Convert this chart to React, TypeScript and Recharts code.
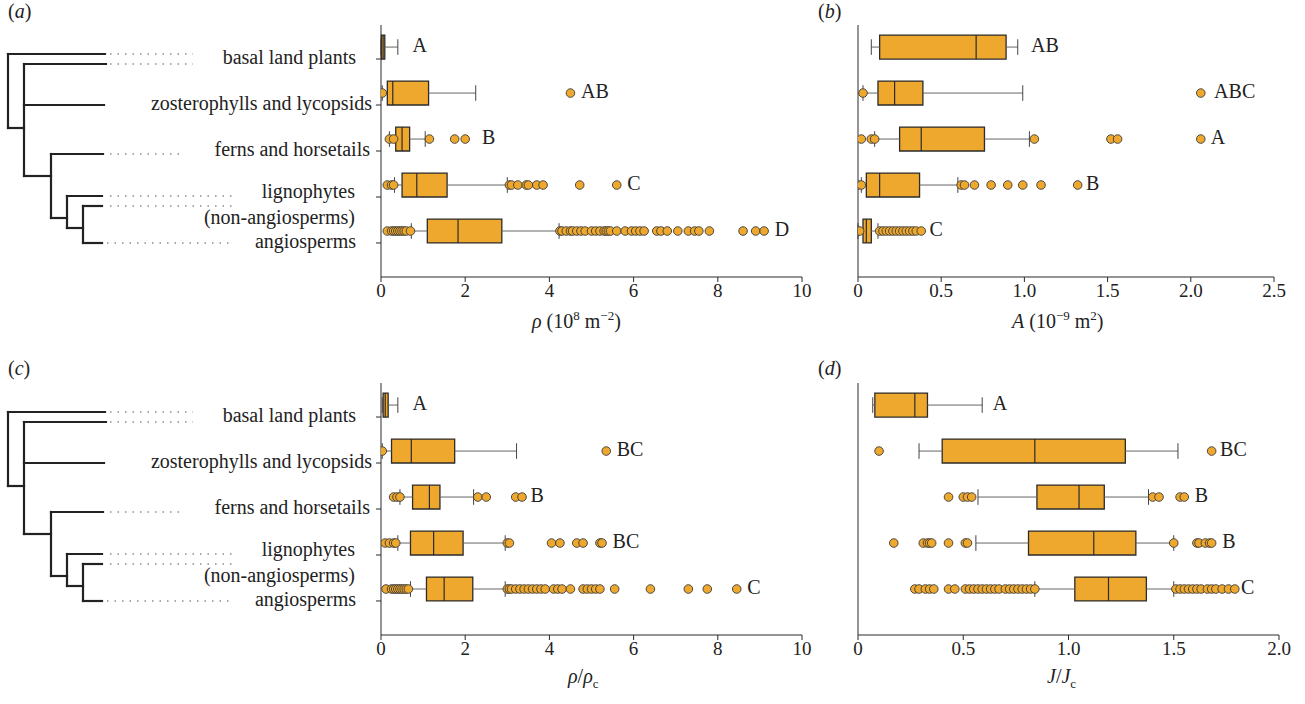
import React from 'react';
import {
  ScatterChart,
  Scatter,
  XAxis,
  YAxis,
  ReferenceArea,
  ReferenceLine,
} from 'recharts';

const groups = ['basal land plants', 'zosterophylls and lycopsids', 'ferns and horsetails', 'lignophytes', 'angiosperms'];
const rows = [1, 2, 3, 4, 5];

// --- (a) rho ---
const aWlo = [0, 0.03, 0.2, 0.32, 0.72];
const aQ1 = [0.01, 0.15, 0.35, 0.5, 1.1];
const aMed = [0.05, 0.28, 0.5, 0.85, 1.83];
const aQ3 = [0.09, 1.13, 0.68, 1.57, 2.87];
const aWhi = [0.4, 2.25, 1.05, 3.0, 4.23];
const aOut = [
  [],
  [0.03, 4.5],
  [0.2, 0.3, 1.15, 1.75, 2.0],
  [0.15, 0.25, 0.3, 3.05, 3.1, 3.25, 3.45, 3.5, 3.7, 3.85, 4.72, 5.6],
  [0.15, 0.25, 0.3, 0.35, 0.4, 0.45, 0.5, 0.55, 0.6, 0.7, 4.25, 4.3, 4.4, 4.5, 4.55, 4.65, 4.75, 4.85, 5.0, 5.1, 5.2, 5.3, 5.35, 5.4, 5.45, 5.6, 5.8, 5.95, 6.05, 6.15, 6.25, 6.55, 6.65, 6.8, 7.05, 7.3, 7.45, 7.55, 7.8, 8.6, 8.9, 9.1],
];
const aLetters = ['A', 'AB', 'B', 'C', 'D'];
const aLetterX = [0.75, 4.75, 2.4, 5.85, 9.35];
const aTicks = [0, 2, 4, 6, 8, 10];

// --- (b) A ---
const bWlo = [0.08, 0.03, 0.1, 0.02, 0.0];
const bQ1 = [0.13, 0.12, 0.25, 0.05, 0.03];
const bMed = [0.71, 0.22, 0.38, 0.13, 0.05];
const bQ3 = [0.89, 0.39, 0.76, 0.37, 0.08];
const bWhi = [0.96, 0.99, 1.03, 0.6, 0.12];
const bOut = [
  [],
  [0.03, 2.06],
  [0.02, 0.08, 0.1, 1.06, 1.52, 1.56, 2.06],
  [0.0, 0.02, 0.62, 0.64, 0.7, 0.8, 0.9, 0.99, 1.1, 1.32],
  [0.0, 0.01, 0.13, 0.15, 0.17, 0.19, 0.21, 0.23, 0.25, 0.27, 0.29, 0.31, 0.33, 0.35, 0.38],
];
const bLetters = ['AB', 'ABC', 'A', 'B', 'C'];
const bLetterX = [1.04, 2.14, 2.12, 1.37, 0.43];
const bTicks = [0, 0.5, 1.0, 1.5, 2.0, 2.5];

// --- (c) rho / rho_c ---
const cWlo = [0.03, 0.03, 0.45, 0.4, 0.7];
const cQ1 = [0.05, 0.25, 0.75, 0.7, 1.08];
const cMed = [0.1, 0.72, 1.15, 1.25, 1.5];
const cQ3 = [0.17, 1.75, 1.4, 1.95, 2.18];
const cWhi = [0.4, 3.22, 2.2, 2.95, 2.95];
const cOut = [
  [],
  [0.03, 5.35],
  [0.3, 0.38, 0.45, 2.3, 2.5, 3.2, 3.35],
  [0.1, 0.2, 0.3, 0.35, 3.0, 3.05, 4.05, 4.25, 4.65, 4.8, 5.2, 5.25],
  [0.12, 0.25, 0.3, 0.35, 0.4, 0.45, 0.5, 0.55, 0.6, 0.65, 3.0, 3.05, 3.1, 3.2, 3.3, 3.4, 3.5, 3.6, 3.7, 3.8, 3.9, 4.1, 4.2, 4.3, 4.5, 4.8, 4.9, 5.0, 5.1, 5.2, 5.55, 6.4, 7.3, 7.75, 8.45],
];
const cLetters = ['A', 'BC', 'B', 'BC', 'C'];
const cLetterX = [0.75, 5.6, 3.55, 5.5, 8.7];

// --- (d) J / J_c ---
const dWlo = [0.07, 0.29, 0.57, 0.56, 0.84];
const dQ1 = [0.08, 0.4, 0.85, 0.81, 1.03];
const dMed = [0.27, 0.84, 1.05, 1.12, 1.19];
const dQ3 = [0.33, 1.27, 1.17, 1.32, 1.37];
const dWhi = [0.59, 1.52, 1.38, 1.5, 1.5];
const dOut = [
  [],
  [0.1, 1.68],
  [0.43, 0.5, 0.52, 0.54, 1.4, 1.43, 1.53, 1.55],
  [0.17, 0.31, 0.33, 0.34, 0.35, 0.43, 0.51, 0.52, 1.5, 1.61, 1.62, 1.65, 1.67, 1.68],
  [0.27, 0.29, 0.32, 0.34, 0.36, 0.43, 0.46, 0.51, 0.53, 0.55, 0.57, 0.59, 0.61, 0.63, 0.65, 0.67, 0.7, 0.72, 0.74, 0.76, 0.78, 0.8, 0.82, 0.84, 1.51, 1.53, 1.55, 1.57, 1.59, 1.61, 1.63, 1.66, 1.68, 1.7, 1.73, 1.76, 1.79],
];
const dLetters = ['A', 'BC', 'B', 'B', 'C'];
const dLetterX = [0.64, 1.72, 1.6, 1.73, 1.82];
const dTicks = [0, 0.5, 1.0, 1.5, 2.0];

const FONT = '"Liberation Serif", "Times New Roman", Times, "DejaVu Serif", "Noto Serif", serif';
const ORANGE = '#EEA82E';
const DARK = '#2b2b2b';
const OFF = 0.26; // boxes sit a little above the tick
const HALF = 0.26;
const CAP = 0.17;

const labelEnds = [356, 372, 370, 355, 356];

const GroupTick = (props: any) => {
  const { y, index } = props;
  const end = labelEnds[index];
  const style = { fontFamily: FONT, fontSize: 20, fill: '#222' };
  if (index === 3) {
    return (
      <g>
        <text x={end} y={y - 4} textAnchor="end" dominantBaseline="middle" style={style}>lignophytes</text>
        <text x={end} y={y + 22} textAnchor="end" dominantBaseline="middle" style={style}>(non-angiosperms)</text>
      </g>
    );
  }
  return (
    <text x={end} y={y} textAnchor="end" dominantBaseline="middle" style={style}>{groups[index]}</text>
  );
};

const Dot = (props: any) => (
  <circle cx={props.cx} cy={props.cy} r={4.3} fill={ORANGE} stroke="#3a3a3a" strokeWidth={0.9} />
);

const Letter = (props: any) => (
  <text x={props.cx} y={props.cy} dominantBaseline="middle" style={{ fontFamily: FONT, fontSize: 20, fill: '#222' }}>
    {props.payload.t}
  </text>
);

interface PanelProps {
  left: number;
  top: number;
  width: number;
  axisWidth: number;
  domain: [number, number];
  ticks: number[];
  wlo: number[];
  q1: number[];
  med: number[];
  q3: number[];
  whi: number[];
  out: number[][];
  letters: string[];
  letterX: number[];
  labels: boolean;
}

function Panel(p: PanelProps) {
  const outliers = p.out.flatMap((vals, i) => vals.map((v) => ({ x: v, y: rows[i] - OFF })));
  const letterData = p.letters.map((t, i) => ({ x: p.letterX[i], y: rows[i] - OFF, t }));
  const fmt = (v: number) => (v === 0 ? '0' : p.ticks.some((t) => t % 1 !== 0) ? v.toFixed(1) : String(v));
  return (
    <div style={{ position: 'absolute', left: p.left, top: p.top }}>
      <ScatterChart width={p.width} height={330} margin={{ top: 25, right: 22, left: 0, bottom: 23 }}>
        <XAxis
          type="number"
          dataKey="x"
          domain={p.domain}
          ticks={p.ticks}
          tickFormatter={fmt}
          stroke={DARK}
          tickSize={5}
          height={30}
          tick={{ fill: '#222', fontSize: 19, fontFamily: FONT }}
          allowDataOverflow
        />
        <YAxis
          type="number"
          dataKey="y"
          domain={[0.26, 5.74]}
          reversed
          ticks={rows}
          width={p.axisWidth}
          stroke={DARK}
          tickSize={5}
          tick={p.labels ? <GroupTick /> : false}
          allowDataOverflow
        />
        {rows.map((r, i) => (
          <React.Fragment key={r}>
            <ReferenceLine segment={[{ x: p.wlo[i], y: r - OFF }, { x: p.q1[i], y: r - OFF }]} stroke="#666" strokeWidth={1} />
            <ReferenceLine segment={[{ x: p.q3[i], y: r - OFF }, { x: p.whi[i], y: r - OFF }]} stroke="#666" strokeWidth={1} />
            <ReferenceLine segment={[{ x: p.wlo[i], y: r - OFF - CAP }, { x: p.wlo[i], y: r - OFF + CAP }]} stroke="#444" strokeWidth={1} />
            <ReferenceLine segment={[{ x: p.whi[i], y: r - OFF - CAP }, { x: p.whi[i], y: r - OFF + CAP }]} stroke="#444" strokeWidth={1} />
            <ReferenceArea x1={p.q1[i]} x2={p.q3[i]} y1={r - OFF - HALF} y2={r - OFF + HALF} fill={ORANGE} fillOpacity={1} stroke={DARK} strokeWidth={1.3} ifOverflow="visible" />
            <ReferenceLine segment={[{ x: p.med[i], y: r - OFF - HALF }, { x: p.med[i], y: r - OFF + HALF }]} stroke={DARK} strokeWidth={1.2} />
          </React.Fragment>
        ))}
        <Scatter data={outliers} shape={<Dot />} isAnimationActive={false} />
        <Scatter data={letterData} shape={<Letter />} isAnimationActive={false} />
      </ScatterChart>
    </div>
  );
}

const tree = [
  [8, 54, 8, 128], [8, 54, 105, 54], [8, 128, 24, 128],
  [24, 64, 24, 176], [24, 64, 106, 64], [24, 105, 104, 105], [24, 176, 51, 176],
  [51, 154, 51, 218], [51, 154, 103, 154], [51, 218, 67, 218],
  [67, 196, 67, 228], [67, 196, 102, 196], [67, 228, 83, 228],
  [83, 206, 83, 243], [83, 206, 102, 206], [83, 243, 102, 243],
];
const dots = [
  [110, 54, 193], [110, 64, 193], [110, 154, 183], [110, 196, 235], [110, 206, 235], [107, 243, 232],
];

function Tree({ dy }: { dy: number }) {
  return (
    <svg style={{ position: 'absolute', left: 0, top: dy }} width={260} height={260}>
      {tree.map(([x1, y1, x2, y2], i) => (
        <line key={i} x1={x1} y1={y1} x2={x2} y2={y2} stroke="#222" strokeWidth={2.2} strokeLinecap="square" />
      ))}
      {dots.map(([x1, y, x2], i) => (
        <line key={'d' + i} x1={x1} y1={y} x2={x2} y2={y} stroke="#aaa" strokeWidth={2} strokeDasharray="1.5 6" />
      ))}
    </svg>
  );
}

const txt: React.CSSProperties = { position: 'absolute', fontFamily: FONT, fontSize: 20, color: '#222', whiteSpace: 'nowrap' };

export default function App() {
  return (
    <div style={{ position: 'absolute', left: 0, top: 0, width: 1305, height: 704, background: '#fff' }}>
      <Tree dy={0} />
      <Tree dy={358} />
      <Panel left={0} top={0} width={824} axisWidth={381} domain={[0, 10]} ticks={aTicks}
        wlo={aWlo} q1={aQ1} med={aMed} q3={aQ3} whi={aWhi} out={aOut} letters={aLetters} letterX={aLetterX} labels />
      <Panel left={0} top={358} width={824} axisWidth={381} domain={[0, 10]} ticks={aTicks}
        wlo={cWlo} q1={cQ1} med={cMed} q3={cQ3} whi={cWhi} out={cOut} letters={cLetters} letterX={cLetterX} labels />
      <Panel left={820} top={0} width={476} axisWidth={38} domain={[0, 2.5]} ticks={bTicks}
        wlo={bWlo} q1={bQ1} med={bMed} q3={bQ3} whi={bWhi} out={bOut} letters={bLetters} letterX={bLetterX} labels={false} />
      <Panel left={820} top={358} width={481} axisWidth={38} domain={[0, 2.0]} ticks={dTicks}
        wlo={dWlo} q1={dQ1} med={dMed} q3={dQ3} whi={dWhi} out={dOut} letters={dLetters} letterX={dLetterX} labels={false} />

      <div style={{ ...txt, left: 8, top: 0 }}>(<i>a</i>)</div>
      <div style={{ ...txt, left: 818, top: 0 }}>(<i>b</i>)</div>
      <div style={{ ...txt, left: 8, top: 357 }}>(<i>c</i>)</div>
      <div style={{ ...txt, left: 818, top: 357 }}>(<i>d</i>)</div>

      <div style={{ ...txt, left: 532, top: 308 }}><i>ρ</i> (10<sup style={{ fontSize: 13 }}>8</sup> m<sup style={{ fontSize: 13 }}>−2</sup>)</div>
      <div style={{ ...txt, left: 1012, top: 308 }}><i>A</i> (10<sup style={{ fontSize: 13 }}>−9</sup> m<sup style={{ fontSize: 13 }}>2</sup>)</div>
      <div style={{ ...txt, left: 568, top: 665 }}><i>ρ</i>/<i>ρ</i><sub style={{ fontSize: 13 }}>c</sub></div>
      <div style={{ ...txt, left: 1047, top: 665 }}><i>J</i>/<i>J</i><sub style={{ fontSize: 13 }}>c</sub></div>
    </div>
  );
}
